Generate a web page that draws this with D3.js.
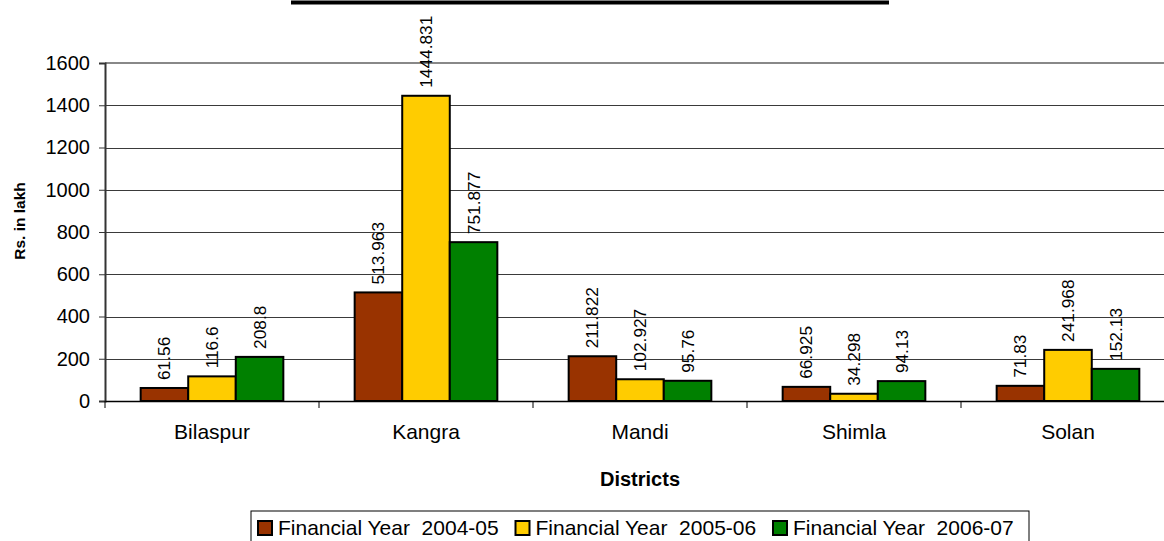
<!DOCTYPE html>
<html>
<head>
<meta charset="utf-8">
<script src="https://cdn.jsdelivr.net/npm/d3@7"></script>
<style>
  html, body { margin: 0; padding: 0; background: #fff; }
  svg { display: block; font-family: "Liberation Sans", Arial, sans-serif; }
</style>
</head>
<body>
<svg id="chart" width="1164" height="541"></svg>
<script>
// District-wise expenditure (Rs. in lakh)
const districts = ["Bilaspur", "Kangra", "Mandi", "Shimla", "Solan"];
const seriesNames = ["Financial Year  2004-05", "Financial Year  2005-06", "Financial Year  2006-07"];
const fy0405 = [61.56, 513.963, 211.822, 66.925, 71.83];
const fy0506 = [116.6, 1444.831, 102.927, 34.298, 241.968];
const fy0607 = [208.8, 751.877, 95.76, 94.13, 152.13];
const seriesColors = ["#993300", "#FFCC00", "#008000"];
const yTicks = [0, 200, 400, 600, 800, 1000, 1200, 1400, 1600];

(function () {
  const series = [fy0405, fy0506, fy0607];
  const svg = d3.select("#chart");

  const plotLeft = 105, plotTop = 63, plotBottom = 401, bandW = 214;
  const plotRight = plotLeft + bandW * districts.length;

  const x = d3.scaleBand().domain(districts).range([plotLeft, plotRight]).paddingInner(0).paddingOuter(0);
  const inner = d3.scaleBand().domain(d3.range(series.length)).range([0, x.bandwidth()]).paddingInner(0).paddingOuter(0.75);
  const y = d3.scaleLinear().domain([0, 1600]).range([plotBottom, plotTop]);

  // thick rule at the top of the page
  svg.append("line").attr("x1", 291).attr("x2", 889).attr("y1", 2.5).attr("y2", 2.5)
    .attr("stroke", "#000").attr("stroke-width", 4);

  // horizontal gridlines
  svg.append("g").selectAll("line").data(yTicks.filter(d => d > 0 && d < 1600)).join("line")
    .attr("x1", plotLeft).attr("x2", plotRight)
    .attr("y1", d => Math.round(y(d)) + 0.5).attr("y2", d => Math.round(y(d)) + 0.5)
    .attr("stroke", "#3a3a3a").attr("stroke-width", 1);

  // plot area top border
  svg.append("line").attr("x1", plotLeft).attr("x2", plotRight)
    .attr("y1", y(1600)).attr("y2", y(1600))
    .attr("stroke", "#888").attr("stroke-width", 2);

  // y axis
  const yAxis = d3.axisLeft(y).tickValues(yTicks).tickSize(6).tickPadding(9).tickFormat(d3.format("d"));
  const gy = svg.append("g").attr("transform", `translate(${plotLeft},0)`).call(yAxis);
  gy.select(".domain").attr("stroke", "#333").attr("stroke-width", 2);
  gy.selectAll(".tick line").attr("stroke", "#333");
  gy.selectAll(".tick text").attr("font-size", 20).attr("font-family", "Liberation Sans, Arial, sans-serif").attr("fill", "#000");

  // bars and value labels
  districts.forEach((dName, i) => {
    const g = svg.append("g").attr("transform", `translate(${x(dName)},0)`);
    series.forEach((vals, s) => {
      const v = vals[i];
      g.append("rect")
        .attr("x", inner(s)).attr("width", inner.bandwidth())
        .attr("y", y(v)).attr("height", y(0) - y(v))
        .attr("fill", seriesColors[s]).attr("stroke", "#000").attr("stroke-width", 2);
      const cx = inner(s) + inner.bandwidth() / 2;
      g.append("text")
        .attr("transform", `translate(${cx + 6},${y(v) - 8}) rotate(-90)`)
        .attr("font-size", 17.3).attr("fill", "#000")
        .text(String(v));
    });
  });

  // x axis
  const xAxis = d3.axisBottom(x).tickSize(0).tickPadding(0);
  const gx = svg.append("g").attr("transform", `translate(0,${plotBottom})`).call(xAxis);
  gx.select(".domain").attr("stroke", "#000").attr("stroke-width", 1.5);
  gx.selectAll(".tick text").remove();
  // category boundary ticks
  svg.append("g").selectAll("line").data(districts).join("line")
    .attr("x1", d => x(d)).attr("x2", d => x(d))
    .attr("y1", plotBottom).attr("y2", plotBottom + 7)
    .attr("stroke", "#000").attr("stroke-width", 1);
  // category labels
  svg.append("g").selectAll("text").data(districts).join("text")
    .attr("x", d => x(d) + x.bandwidth() / 2).attr("y", 439)
    .attr("text-anchor", "middle").attr("font-size", 21).attr("fill", "#000")
    .text(d => d);

  // axis titles
  svg.append("text").attr("x", 640).attr("y", 486).attr("text-anchor", "middle")
    .attr("font-size", 20).attr("font-weight", "bold").text("Districts");
  svg.append("text").attr("transform", "translate(25,221) rotate(-90)").attr("text-anchor", "middle")
    .attr("font-size", 15.5).attr("font-weight", "bold").text("Rs. in lakh");

  // legend
  const lg = svg.append("g");
  lg.append("rect").attr("x", 251).attr("y", 511).attr("width", 778).attr("height", 40)
    .attr("fill", "#fff").attr("stroke", "#000").attr("stroke-width", 1);
  seriesNames.forEach((name, s) => {
    const lx = 258 + s * 257.5;
    lg.append("rect").attr("x", lx).attr("y", 521).attr("width", 14).attr("height", 14)
      .attr("fill", seriesColors[s]).attr("stroke", "#000").attr("stroke-width", 2);
    lg.append("text").attr("x", lx + 20).attr("y", 535).attr("font-size", 21)
      .style("white-space", "pre").text(name);
  });
})();
</script>
</body>
</html>
